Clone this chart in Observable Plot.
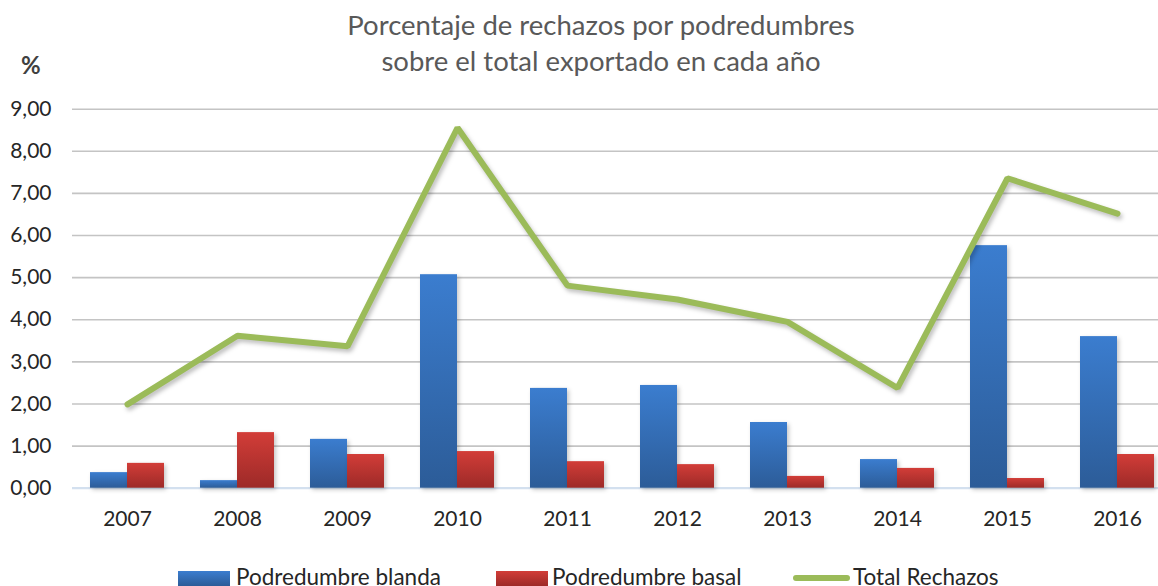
<!DOCTYPE html>
<html><head><meta charset="utf-8">
<script src="https://cdn.jsdelivr.net/npm/d3@7"></script>
<script src="https://cdn.jsdelivr.net/npm/@observablehq/plot@0.6"></script>
<style>
body{margin:0;background:#fff;font-family:Lato,"Noto Sans",sans-serif;}
#wrap{position:relative;width:1158px;height:586px;overflow:hidden;background:#fff;}
#chart{position:absolute;left:0;top:0;}
#title{position:absolute;left:0;width:1202px;top:7px;text-align:center;font-size:27.5px;color:#595959;line-height:36px;}
#unit{position:absolute;left:21px;top:50px;font-size:24px;font-weight:bold;color:#404040;}
.leg{position:absolute;top:564px;font-size:22.5px;color:#262626;white-space:nowrap;line-height:26px;}
.sw{position:absolute;}
</style>
</head><body>
<div id="wrap">
  <div id="chart"></div>
  <div id="title"></div>
  <div id="unit">%</div>
  <div id="legend"></div>
</div>
<script>
const years = ["2007","2008","2009","2010","2011","2012","2013","2014","2015","2016"];
const blanda = [0.37,0.18,1.16,5.07,2.37,2.44,1.56,0.68,5.76,3.60];
const basal  = [0.59,1.32,0.80,0.87,0.63,0.56,0.28,0.47,0.23,0.80];
const total  = [1.99,3.62,3.37,8.56,4.81,4.48,3.95,2.38,7.36,6.52];
const yTicks = [0,1,2,3,4,5,6,7,8,9];
const seriesNames = ["Podredumbre blanda","Podredumbre basal","Total Rechazos"];
const titleLines = ["Porcentaje de rechazos por podredumbres","sobre el total exportado en cada año"];

const rows = years.map((y,i)=>({year:y, blanda:blanda[i], basal:basal[i], total:total[i]}));
const fmt = d => d.toFixed(2).replace(".", ",");

const chart = Plot.plot({
  width: 1158,
  height: 586,
  marginLeft: 72,
  marginRight: 0,
  marginTop: 108,
  marginBottom: 98,
  style: {fontFamily: "Lato, 'Noto Sans', sans-serif", fontSize: "21px", color: "#404040", background: "transparent"},
  x: {type: "band", domain: years, range: [72.3, 1172.3], padding: 0},
  y: {domain: [0, 9], range: [487.7, 108.7]},
  marks: [
    Plot.ruleY(yTicks.filter(d => d > 0), {stroke: "#c4c4c4", strokeWidth: 1.6}),
    Plot.ruleY([0], {stroke: "#d3e0ef", strokeWidth: 2.2}),
    Plot.barY(rows, {x: "year", y: "blanda", fill: "url(#gBlue)", insetLeft: 18, insetRight: 55}),
    Plot.barY(rows, {x: "year", y: "basal", fill: "url(#gRed)", insetLeft: 55, insetRight: 18}),
    Plot.lineY(rows, {x: "year", y: "total", stroke: "#9bbb59", strokeWidth: 6, strokeLinecap: "round", strokeLinejoin: "miter"}),
    Plot.axisY(yTicks, {tickSize: 0, tickPadding: 21, tickFormat: fmt, label: null, fill: "#262626"}),
    Plot.axisX({tickSize: 0, tickPadding: 23, label: null, fill: "#262626"})
  ]
});

// gradients
const ns = "http://www.w3.org/2000/svg";
const defs = document.createElementNS(ns, "defs");
function grad(id, c1, c2) {
  const g = document.createElementNS(ns, "linearGradient");
  g.setAttribute("id", id); g.setAttribute("x1", "0"); g.setAttribute("y1", "0"); g.setAttribute("x2", "0"); g.setAttribute("y2", "1");
  [[0, c1], [1, c2]].forEach(([o, c]) => {
    const s = document.createElementNS(ns, "stop");
    s.setAttribute("offset", o); s.setAttribute("stop-color", c); g.appendChild(s);
  });
  defs.appendChild(g);
}
grad("gBlue", "#3b7dcf", "#2c5c98");
grad("gRed", "#d23d38", "#9d2a28");
chart.insertBefore(defs, chart.firstChild);
chart.querySelectorAll('g[fill^="url"]').forEach(g => g.style.filter = "drop-shadow(2px 2px 2px rgba(0,0,0,0.22))");
chart.querySelectorAll('g[stroke="#9bbb59"]').forEach(g => g.style.filter = "drop-shadow(2px 3px 2px rgba(0,0,0,0.25))");
document.getElementById("chart").appendChild(chart);

// title
document.getElementById("title").innerHTML = titleLines.map(t => `<div>${t}</div>`).join("");

// legend
const leg = document.getElementById("legend");
const legItems = [
  {name: seriesNames[0], sw: "linear-gradient(#3b7dcf,#2c5c98)", swL: 178, swW: 52, swTop: 571, swH: 15, tx: 236},
  {name: seriesNames[1], sw: "linear-gradient(#d23d38,#9d2a28)", swL: 496, swW: 52, swTop: 571, swH: 15, tx: 552},
  {name: seriesNames[2], sw: "#9bbb59", swL: 793, swW: 57, swTop: 575, swH: 6, tx: 853, round: true}
];
legItems.forEach(it => {
  const s = document.createElement("div");
  s.className = "sw";
  s.style.left = it.swL + "px"; s.style.top = it.swTop + "px"; s.style.width = it.swW + "px"; s.style.height = it.swH + "px";
  s.style.background = it.sw;
  if (it.round) s.style.borderRadius = "3px";
  leg.appendChild(s);
  const t = document.createElement("div");
  t.className = "leg"; t.style.left = it.tx + "px"; t.textContent = it.name;
  leg.appendChild(t);
});
</script>
</body></html>
